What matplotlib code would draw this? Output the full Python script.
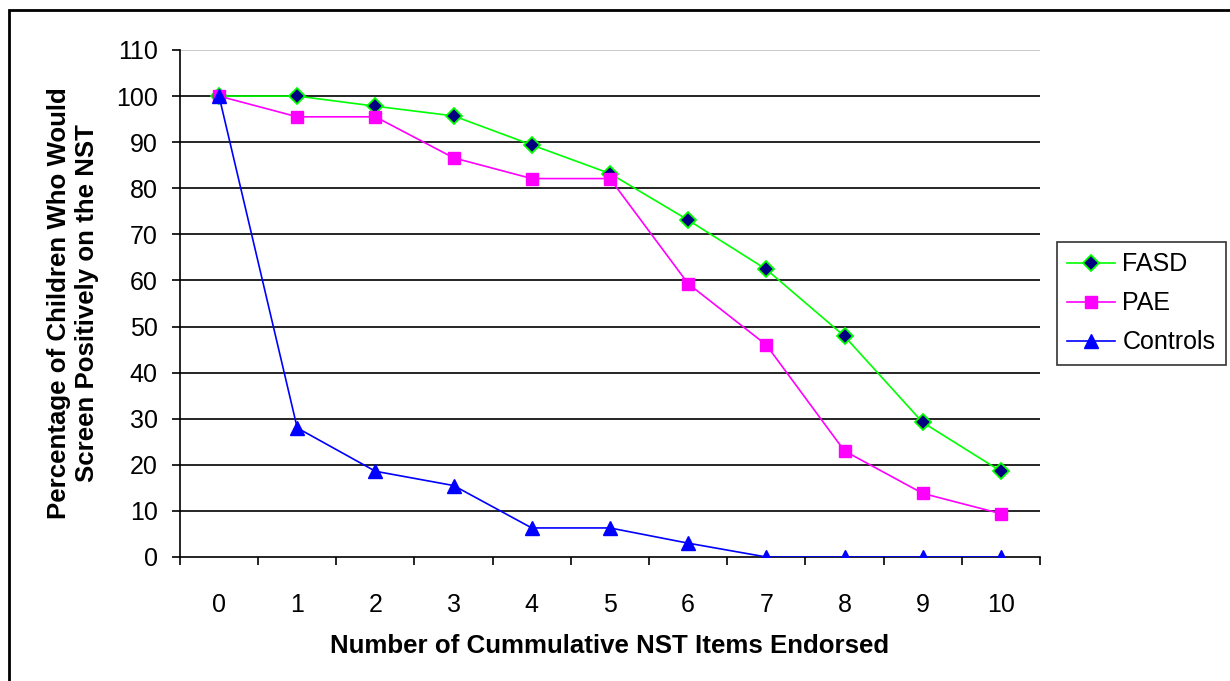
#!/usr/bin/env python3
import matplotlib
matplotlib.use("Agg")
import matplotlib.pyplot as plt
from matplotlib.patches import Rectangle
import numpy as np

items = [0, 1, 2, 3, 4, 5, 6, 7, 8, 9, 10]
fasd = [100, 100, 97.8, 95.7, 89.4, 83.2, 73.1, 62.4, 47.9, 29.2, 18.6]
pae = [100, 95.5, 95.5, 86.6, 82.1, 82.1, 59.3, 46.0, 23.0, 13.8, 9.4]
controls = [100, 28.0, 18.6, 15.5, 6.3, 6.3, 3.0, 0, 0, 0, 0]

plt.rcParams['font.family'] = ['Liberation Sans', 'DejaVu Sans']
plt.rcParams['font.size'] = 18

fig = plt.figure(figsize=(12.3, 6.81), dpi=100)
ax = fig.add_axes([0.1463, 0.1821, 0.6992, 0.7445])

ax.plot(items, fasd, color='#00FF00', lw=1.2, marker='D', ms=8,
        markerfacecolor='#000080', markeredgecolor='#00FF00', mew=1.3, label='FASD', zorder=3)
ax.plot(items, pae, color='#FF00FF', lw=1.2, marker='s', ms=9,
        markerfacecolor='#FF00FF', markeredgecolor='#FF00FF', label='PAE', zorder=3)
ax.plot(items, controls, color='#0000FF', lw=1.2, marker='^', ms=10,
        markerfacecolor='#0000FF', markeredgecolor='#0000FF', label='Controls', zorder=3)

ax.set_xlim(-0.5, 10.5)
ax.set_ylim(0, 110)
ax.set_yticks(np.arange(0, 111, 10))
ax.set_xticks(items)
ax.set_xticks(np.arange(-0.5, 10.6, 1), minor=True)
ax.tick_params(axis='x', which='major', length=0, pad=26)
ax.tick_params(axis='x', which='minor', length=6, width=1.2, direction='out')
ax.tick_params(axis='y', length=6, width=1.2, direction='out', pad=10)

for v in range(10, 101, 10):
    ax.axhline(v, color='black', lw=1.2, zorder=1)
ax.axhline(110, color='#C0C0C0', lw=1.2, zorder=1)

for s in ['top', 'right']:
    ax.spines[s].set_visible(False)
ax.spines['left'].set_linewidth(1.2)
ax.spines['bottom'].set_linewidth(1.2)

ax.set_xlabel('Number of Cummulative NST Items Endorsed', fontweight='bold',
              fontsize=18.6, labelpad=12)
ax.set_ylabel('Percentage of Children Who Would\nScreen Positively on the NST',
              fontweight='bold', fontsize=18.6, labelpad=12)

leg = ax.legend(loc='center left', bbox_to_anchor=(1.0198, 0.5), frameon=True,
                fancybox=False, edgecolor='black', handlelength=1.9,
                borderpad=0.42, labelspacing=0.6, handletextpad=0.3,
                borderaxespad=0)
leg.get_frame().set_linewidth(1.2)

fig.patches.append(Rectangle((9 / 1230, -0.05), 1.1, 1 - 10 / 681 + 0.05,
                             transform=fig.transFigure, fill=False,
                             edgecolor='black', lw=2, zorder=10))

fig.savefig('out.png', dpi=100)
